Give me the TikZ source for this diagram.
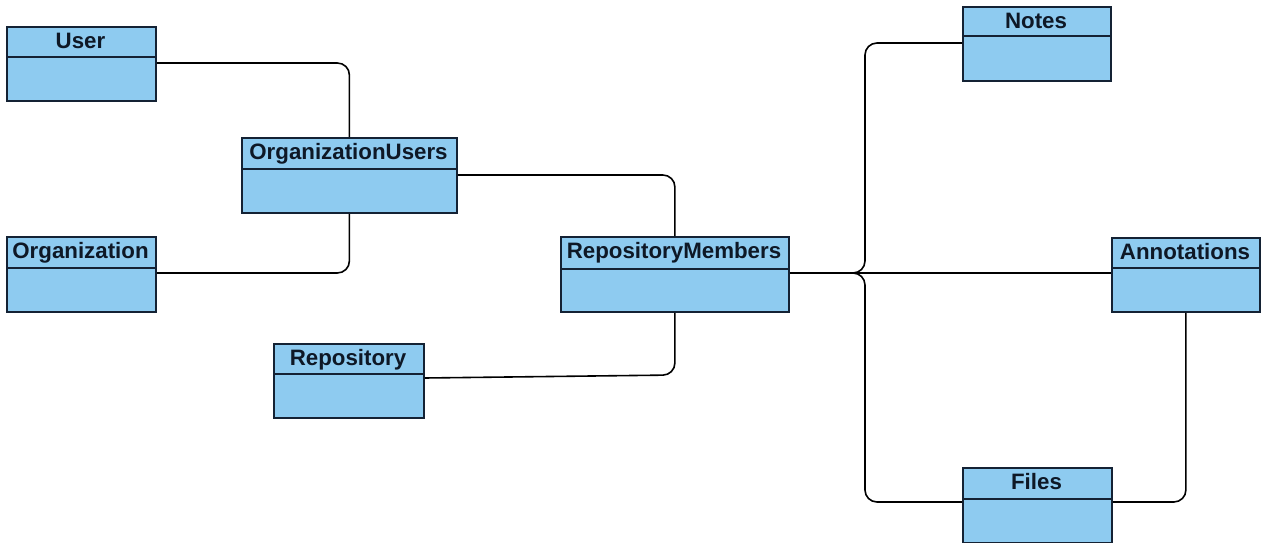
\documentclass[tikz,border=0pt]{standalone}
\usepackage{fontspec}
\setmainfont{Liberation Sans}
\definecolor{classfill}{RGB}{142,203,240}
\definecolor{classedge}{RGB}{20,34,52}
\definecolor{classtext}{RGB}{14,24,38}
\tikzset{
  cls/.style={draw=classedge, fill=classfill, line width=1.8pt, inner sep=0pt, rectangle},
  divider/.style={draw=classedge, line width=1.6pt},
  title/.style={anchor=base, inner sep=0pt, text=classtext,
    font=\fontsize{22.3}{25}\selectfont\bfseries},
  conn/.style={draw=black, line width=1.6pt, rounded corners=12pt},
}
% \umlclass{name}{x1}{y1}{x2}{y2}{divider y}{title}
\newcommand\umlclass[7]{%
  \pgfmathsetmacro\bw{#4-#2}%
  \pgfmathsetmacro\bh{#5-#3}%
  \node[cls, minimum width=\bw pt, minimum height=\bh pt, anchor=north west] (#1) at (#2,#3) {};
  \draw[divider] (#2,#6) -- (#4,#6);
  \node[title] (#1-t) at ({(#2+#4)/2},{#3+22.5}) {#7};
}
\begin{document}
\begin{tikzpicture}[x=1pt, y=-1pt]
\useasboundingbox (0,0) rectangle (1262,543);

\coordinate (fork) at (853,273);
\coordinate (trunk) at (865,273);

\umlclass{user}{6}{26}{155}{100}{57}{User}
\umlclass{ou}{241}{137}{456}{212}{169}{OrganizationUsers}
\umlclass{org}{6}{236}{155}{311}{268}{Organization}
\umlclass{rm}{560}{236}{788}{311}{269}{RepositoryMembers}
\umlclass{repo}{273}{343}{423}{417}{374}{Repository}
\umlclass{notes}{962}{6}{1110}{80}{36}{Notes}
\umlclass{ann}{1111}{237}{1259}{311}{268}{Annotations}
\umlclass{files}{962}{467}{1111}{542}{499}{Files}

\draw[conn] (user.east |- 0,63) -| (ou.north);
\draw[conn] (org.east |- 0,273) -| (ou.south);
\draw[conn] (ou.east |- 0,175) -| (rm.north);
\draw[conn] (repo.east |- 0,378) -- (rm.south |- 0,375) -- (rm.south);
\draw[conn] (rm.east |- 0,273) -- (ann.west |- 0,273);
\draw[conn] (fork) -| (trunk |- 0,43) -- (notes.west |- 0,43);
\draw[conn] (fork) -| (trunk |- 0,502) -- (files.west |- 0,502);
\draw[conn] (ann.south) |- (files.east |- 0,502);
\end{tikzpicture}
\end{document}
